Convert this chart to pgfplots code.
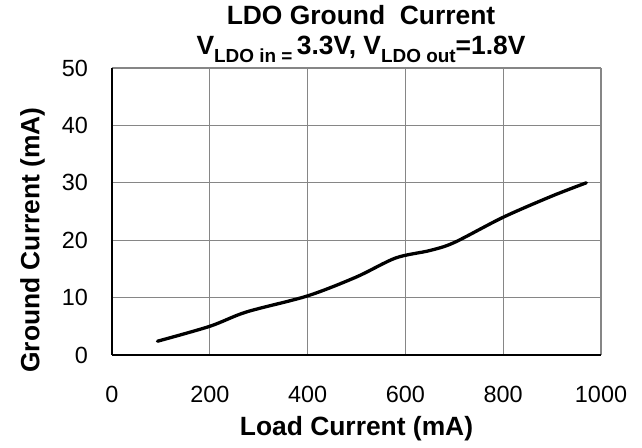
\documentclass[border=0pt]{standalone}
\usepackage{fontspec}
\setmainfont{Liberation Sans}
\usepackage{pgfplots}
\pgfplotsset{compat=1.18}
\definecolor{gridgray}{RGB}{134,134,134}
\begin{document}
\begin{tikzpicture}[x=1bp,y=1bp]
\path[use as bounding box] (-112,-93) rectangle (530,355);
\begin{axis}[
  at={(0,0)}, anchor=south west,
  scale only axis,
  width=489bp, height=287bp,
  xmin=0, xmax=1000, ymin=0, ymax=50,
  xtick={0,200,...,1000}, ytick={0,10,...,50},
  grid=major,
  major grid style={draw=gridgray, line width=1.1pt},
  axis x line*=bottom, axis y line*=left,
  axis line style={black, line width=1.6pt, -},
  major tick length=0pt,
  /pgf/number format/assume math mode=true,
  /pgf/number format/1000 sep={},
  ticklabel style={font=\fontsize{23.5}{28}\selectfont, inner sep=0pt},
  xticklabel style={anchor=base, yshift=-48bp},
  yticklabel style={anchor=east, xshift=-24bp},
]
\addplot[black, line width=3.3pt, line cap=round, smooth, tension=0.5] coordinates {
(93,2.4) (200,5.0) (275,7.5) (400,10.3) (500,13.6) (580,16.9) (650,18.2) (700,19.6) (800,24.0) (900,27.7) (970,30.0)
};
\end{axis}
\node[anchor=base, font=\bfseries\fontsize{26.5}{30}\selectfont] at (244.5,-81) {Load Current (mA)};
\node[anchor=base, rotate=90, font=\bfseries\fontsize{26.5}{30}\selectfont] at (-72.5,115) {Ground Current (mA)};
\node[anchor=base, font=\bfseries\fontsize{26.5}{30}\selectfont] at (249,330) {LDO Ground\ \ Current};
\node[anchor=base, font=\bfseries\fontsize{26.5}{30}\selectfont] at (249,300) {V\raisebox{-8bp}{\fontsize{19}{19}\selectfont LDO in =}\,3.3V, V\raisebox{-8bp}{\fontsize{19}{19}\selectfont LDO out}=1.8V};
\end{tikzpicture}
\end{document}
